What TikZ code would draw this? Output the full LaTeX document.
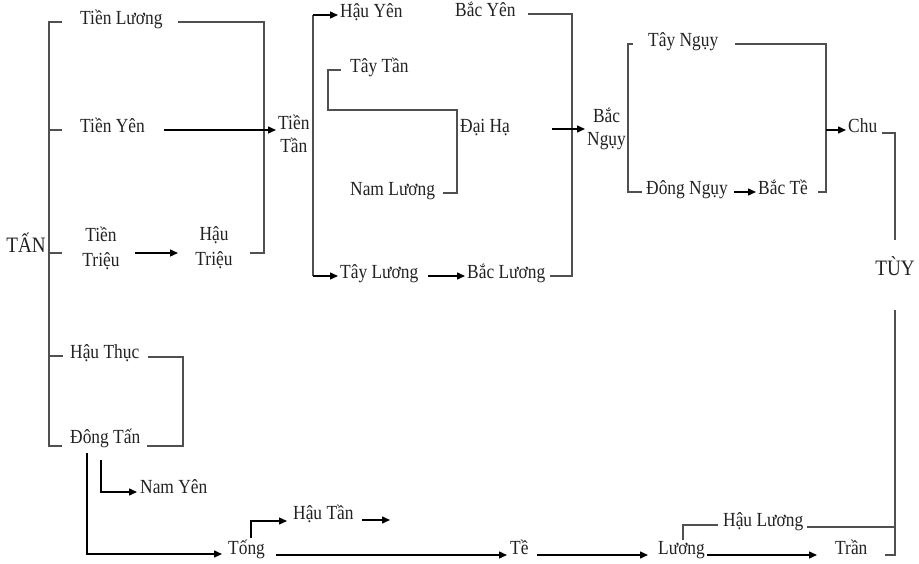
\documentclass[tikz,border=0pt]{standalone}
\usepackage{fontspec}
\setmainfont[FakeStretch=0.87]{Liberation Serif}
\usetikzlibrary{arrows.meta}
\definecolor{lncol}{HTML}{505050}
\definecolor{txcol}{HTML}{222222}
\tikzset{
  lbl/.style={inner xsep=2pt, inner ysep=0pt, text=txcol, font=\fontsize{20}{23}\selectfont, align=center},
  big/.style={lbl, font=\fontsize{22}{26}\selectfont},
  two/.style={lbl, font=\fontsize{20}{25}\selectfont},
  ln/.style={draw=lncol, line width=1.3pt},
  arr/.style={draw=black, line width=1.4pt, -{Triangle[length=8pt,width=7pt]}}
}
\begin{document}
\begin{tikzpicture}[x=1pt,y=-1pt]
\useasboundingbox (0,0) rectangle (919,564);
% nodes
\node[big, anchor=mid east] (tan) at (48,250) {TẤN};
\node[lbl, anchor=mid west] (tluong) at (78,22) {Tiền Lương};
\node[lbl, anchor=mid west] (tyen) at (78,130) {Tiền Yên};
\node[two] (ttrieu) at (101,248) {Tiền\\Triệu};
\node[two] (htrieu) at (214,248) {Hậu\\Triệu};
\node[lbl, anchor=west] (ttan) at (276,134) {Tiền\\Tần};
\node[lbl, anchor=mid west] (hyen) at (338,15) {Hậu Yên};
\node[lbl, anchor=mid west] (byen) at (453,14) {Bắc Yên};
\node[lbl, anchor=mid west] (taytan) at (348,70) {Tây Tần};
\node[lbl, anchor=mid west] (daiha) at (458,130) {Đại Hạ};
\node[lbl, anchor=mid west] (nluong) at (348,193) {Nam Lương};
\node[lbl, anchor=mid west] (tayluong) at (338,276) {Tây Lương};
\node[lbl, anchor=mid west] (bluong) at (465,276) {Bắc Lương};
\node[lbl, anchor=west] (bnguy) at (585,129) {Bắc\\Ngụy};
\node[lbl, anchor=mid west] (tnguy) at (646,44) {Tây Ngụy};
\node[lbl, anchor=mid west] (dnguy) at (644,192) {Đông Ngụy};
\node[lbl, anchor=mid west] (bte) at (756,192) {Bắc Tề};
\node[lbl, anchor=mid west] (chu) at (846,130) {Chu};
\node[big, anchor=mid] (tuy) at (895,273) {TÙY};
\node[lbl, anchor=mid west] (hthuc) at (68,356) {Hậu Thục};
\node[lbl, anchor=mid west] (dtan) at (68,441) {Đông Tấn};
\node[lbl, anchor=mid west] (nyen) at (138,491) {Nam Yên};
\node[lbl, anchor=mid west] (htan) at (291,517) {Hậu Tần};
\node[lbl, anchor=mid west] (tong) at (226,552) {Tống};
\node[lbl, anchor=mid west] (te) at (508,552) {Tề};
\node[lbl, anchor=mid west] (luong) at (656,552) {Lương};
\node[lbl, anchor=mid west] (tran) at (833,552) {Trần};
\node[lbl, anchor=mid west] (hluong) at (721,524) {Hậu Lương};
% left bracket
\draw[ln] (62,22) -- (49,22) -- (49,446) -- (62,446);
\draw[ln] (49,130) -- (62,130);
\draw[ln] (49,253) -- (62,253);
\draw[ln] (49,356) -- (63,356);
\draw[ln] (178,22) -| (264,253) -- (250,253);
\draw[arr] (164,130) -- ([yshift=4pt]ttan.west);
\draw[arr] (135,253) -- (178,253);
% Tien Tan bracket
\draw[ln] (313,15) -- (313,276);
\draw[arr] (313,15) -- (hyen.mid west);
\draw[arr] (313,276) -- (tayluong.mid west);
\draw[arr] (428,276) -- (bluong.mid west);
\draw[ln] (550,276) -| (572,14) -- (528,14);
\draw[ln] (341,70) -| (328,110) -| (457,193) -- (443,193);
\draw[arr] (552,129) -- (bnguy.west);
% Bac Nguy bracket
\draw[ln] (633,44) -| (628,192) -- (642,192);
\draw[ln] (735,44) -| (826,192) -- (818,192);
\draw[arr] (734,192) -- (bte.mid west);
\draw[arr] (826,130) -- (chu.mid west);
\draw[ln] (882,133) -| (895,240);
\draw[ln] (895,310) -- (895,555) -- (885,555);
\draw[ln] (807,527) -- (895,527);
% bottom chain
\draw[ln] (718,525) -| (683,540);
\draw[arr] (707,555) -- (817,555);
\draw[arr] (537,555) -- (648,555);
\draw[arr] (276,555) -- (507,555);
\draw[arr] (87,453) |- (222,554);
\draw[arr] (251,538) |- (287,521);
\draw[arr] (362,520) -- (390,520);
\draw[arr] (101,460) |- (137,492);
\draw[ln] (148,357) -| (183,446) -- (147,446);
\end{tikzpicture}
\end{document}
